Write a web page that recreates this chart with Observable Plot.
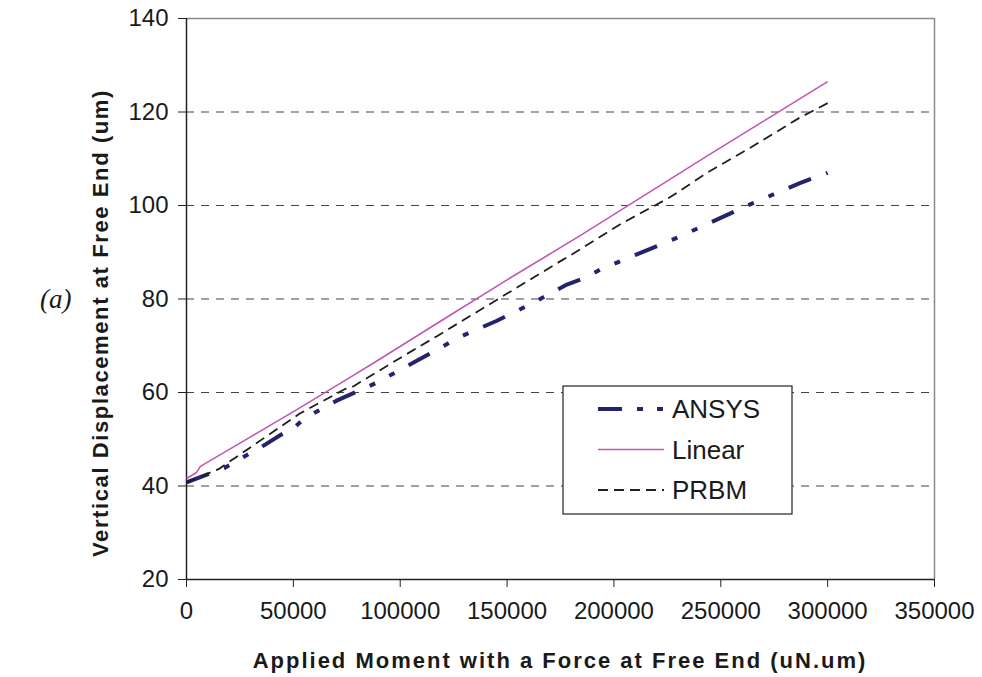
<!DOCTYPE html>
<html>
<head>
<meta charset="utf-8">
<script src="https://cdn.jsdelivr.net/npm/d3@7"></script>
<script src="https://cdn.jsdelivr.net/npm/@observablehq/plot@0.6"></script>
<style>
  html, body { margin: 0; padding: 0; background: #fff; }
  #chart { width: 982px; height: 677px; }
</style>
</head>
<body>
<div id="chart"></div>
<script>
// Applied moment (uN.um) and vertical free-end displacement (um) per model
const ansysMoment = [0, 18000, 37000, 45000, 50000, 55000, 70000, 89000, 119000, 127000, 145000, 161000, 178000, 187000, 194000, 211000, 228000, 245000, 264000, 287000, 300000];
const ansysDisp   = [40.8, 43.9, 48.9, 51.2, 52.3, 54.4, 58.2, 62.1, 69.6, 71.7, 75.3, 78.9, 83.1, 84.6, 86.4, 89.6, 92.8, 96.3, 100.3, 104.8, 107.0];

const linearMoment = [0, 4700, 6500, 30000, 53000, 75000, 90000, 119000, 150000, 184000, 245000, 300000];
const linearDisp   = [41.6, 42.9, 44.2, 50.5, 56.7, 62.8, 67.0, 75.3, 84.1, 93.5, 111.0, 126.5];

const prbmMoment = [0, 15000, 53000, 74000, 78000, 100000, 117000, 148000, 175000, 182000, 203000, 226000, 245000, 264000, 287000, 300000];
const prbmDisp   = [40.8, 43.6, 55.5, 60.7, 61.3, 67.4, 72.0, 80.6, 88.1, 90.0, 96.0, 101.7, 107.4, 112.4, 118.8, 121.9];

const xTicks = [0, 50000, 100000, 150000, 200000, 250000, 300000, 350000];
const yTicks = [20, 40, 60, 80, 100, 120, 140];
const gridValues = [40, 60, 80, 100, 120];

const seriesNames = ["ANSYS", "Linear", "PRBM"];
const seriesColors = ["#23236e", "#c455b4", "#1e1e1e"];
const seriesWidths = [4, 1.6, 1.8];
const seriesDashes = ["24,16,6,16,6,16", null, "10,6"];

const toRows = (xs, ys) => xs.map((x, i) => ({x, y: ys[i]}));
const series = [
  toRows(ansysMoment, ansysDisp),
  toRows(linearMoment, linearDisp),
  toRows(prbmMoment, prbmDisp)
];

const W = 982, H = 677;
const margin = {left: 186, right: 48, top: 18, bottom: 98};

const chart = Plot.plot({
  width: W,
  height: H,
  marginLeft: margin.left,
  marginRight: margin.right,
  marginTop: margin.top,
  marginBottom: margin.bottom,
  style: {fontFamily: "'Liberation Sans', Arial, sans-serif", fontSize: "24px", color: "#1a1a1a", background: "#fff"},
  x: {domain: [0, 350000]},
  y: {domain: [20, 140]},
  marks: [
    Plot.ruleY(gridValues, {stroke: "#444", strokeWidth: 1.2, strokeDasharray: "8,7"}),
    Plot.ruleY([140], {stroke: "#8a8a8a", strokeWidth: 1.5}),
    Plot.ruleX([350000], {stroke: "#8a8a8a", strokeWidth: 1.5}),
    Plot.ruleX([0], {stroke: "#222", strokeWidth: 1.5}),
    Plot.ruleY([20], {stroke: "#222", strokeWidth: 1.5}),
    Plot.axisX({ticks: xTicks, tickFormat: d => String(d), tickSize: 8, tickPadding: 14, stroke: "#222", label: null}),
    Plot.axisY({ticks: yTicks, tickFormat: d => String(d), tickSize: 8, tickPadding: 10, stroke: "#222", label: null}),
    ...series.map((rows, i) => Plot.line(rows, {
      x: "x", y: "y",
      stroke: seriesColors[i],
      strokeWidth: seriesWidths[i],
      strokeDasharray: seriesDashes[i],
      strokeLinecap: "butt",
      strokeLinejoin: "round"
    }))
  ]
});

document.getElementById("chart").appendChild(chart);

const svg = d3.select(chart);

// Axis titles
svg.append("text")
  .attr("x", 560).attr("y", 668)
  .attr("text-anchor", "middle")
  .style("font", "bold 22px 'Liberation Sans', Arial, sans-serif")
  .style("letter-spacing", "2px")
  .attr("fill", "#1a1a1a")
  .text("Applied Moment with a Force at Free End (uN.um)");

svg.append("text")
  .attr("transform", "translate(108,323) rotate(-90)")
  .attr("text-anchor", "middle")
  .style("font", "bold 22px 'Liberation Sans', Arial, sans-serif")
  .style("letter-spacing", "1.6px")
  .attr("fill", "#1a1a1a")
  .text("Vertical Displacement at Free End (um)");

// Panel tag
svg.append("text")
  .attr("x", 40).attr("y", 308)
  .attr("text-anchor", "start")
  .style("font", "italic 27px 'Liberation Serif', 'Times New Roman', serif")
  .attr("fill", "#1a1a1a")
  .text("(a)");

// Legend box
const legend = svg.append("g").attr("transform", "translate(563,386)");
legend.append("rect")
  .attr("width", 229).attr("height", 128)
  .attr("fill", "#fff").attr("stroke", "#222").attr("stroke-width", 1.2);
seriesNames.forEach((name, i) => {
  const cy = 23 + i * 40.5;
  legend.append("line")
    .attr("x1", 35).attr("x2", 101).attr("y1", cy).attr("y2", cy)
    .attr("stroke", seriesColors[i])
    .attr("stroke-width", seriesWidths[i])
    .attr("stroke-dasharray", i === 0 ? "24,15,6,14,6" : (seriesDashes[i] || null));
  legend.append("text")
    .attr("x", 109).attr("y", cy + 9)
    .attr("text-anchor", "start")
    .style("font", "26px 'Liberation Sans', Arial, sans-serif")
    .attr("fill", "#1a1a1a")
    .text(name);
});
</script>
</body>
</html>
